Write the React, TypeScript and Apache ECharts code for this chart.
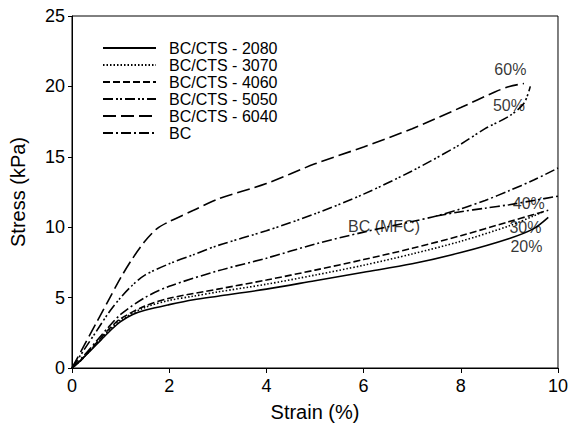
import React, { useEffect, useRef } from "react";
import * as echarts from "echarts";

const seriesNames = ["BC/CTS - 2080", "BC/CTS - 3070", "BC/CTS - 4060", "BC/CTS - 5050", "BC/CTS - 6040", "BC"];

const s2080: number[][] = [[0,0],[0.2,0.6],[0.4,1.3],[0.6,2.0],[0.8,2.7],[1.0,3.3],[1.25,3.8],[1.5,4.1],[2,4.5],[2.5,4.85],[3,5.1],[4,5.6],[5,6.2],[6,6.8],[7,7.4],[8,8.2],[9,9.2],[9.5,9.9],[9.8,10.7]];
const s3070: number[][] = [[0,0],[0.2,0.6],[0.4,1.35],[0.6,2.1],[0.8,2.8],[1,3.4],[1.5,4.3],[2,4.8],[2.5,5.1],[3,5.4],[4,5.95],[5,6.6],[6,7.3],[7,8.1],[8,9.0],[9,10.1],[9.5,10.8],[9.7,11.1]];
const s4060: number[][] = [[0,0],[0.2,0.62],[0.4,1.4],[0.6,2.15],[0.8,2.9],[1,3.5],[1.5,4.4],[2,4.95],[3,5.6],[4,6.25],[5,6.95],[6,7.7],[7,8.5],[8,9.4],[9,10.4],[9.5,10.9],[9.8,11.2]];
const s5050: number[][] = [[0,0],[0.25,1.3],[0.5,2.6],[0.75,3.9],[1,5.0],[1.25,5.9],[1.5,6.6],[2,7.4],[2.5,8.05],[3,8.7],[4,9.75],[5,10.95],[6,12.35],[7,14.0],[8,15.9],[8.5,17.0],[9,17.9],[9.3,18.8],[9.43,20.0]];
const s6040: number[][] = [[0,0],[0.25,1.6],[0.5,3.2],[0.75,4.8],[1,6.4],[1.25,7.8],[1.5,9.0],[1.75,9.9],[2,10.4],[2.5,11.2],[3,12.0],[4,13.1],[5,14.5],[6,15.7],[7,17.0],[8,18.5],[8.7,19.6],[9,20.0],[9.3,20.2]];
const sBC: number[][] = [[0,0],[0.25,0.9],[0.5,1.9],[0.75,2.9],[1,3.8],[1.5,5.0],[2,5.8],[3,6.9],[4,7.8],[5,8.8],[6,9.65],[7,10.4],[7.5,10.8],[8,11.3],[8.5,11.9],[9,12.6],[9.5,13.35],[10,14.2]];
const sBCBranch: number[][] = [[7.5,10.8],[8,11.1],[8.5,11.35],[9,11.6],[9.5,11.9],[10,12.2]];

const annotations = [
  { name: "60%", value: [9.02, 21.2] },
  { name: "50%", value: [8.99, 18.65] },
  { name: "40%", value: [9.4, 11.69] },
  { name: "30%", value: [9.33, 9.96] },
  { name: "20%", value: [9.35, 8.62] },
  { name: "BC (MFC)", value: [6.42, 10.03] },
];

const xTicks = { min: 0, max: 10, interval: 2 };
const yTicks = { min: 0, max: 25, interval: 5 };

const dashes: (string | number[])[] = ["solid", [1.5, 2], [7, 3], [10, 3, 2, 2, 2, 3], [13, 5], [10, 3, 2, 3]];
const datasets = [s2080, s3070, s4060, s5050, s6040, sBC];

export default function App() {
  const ref = useRef<HTMLDivElement>(null);
  useEffect(() => {
    if (!ref.current) return;
    document.body.style.margin = "0";
    const chart = echarts.init(ref.current, undefined, { renderer: "svg" });
    const font = "Liberation Sans, Arial, sans-serif";
    chart.setOption({
      animation: false,
      textStyle: { fontFamily: font },
      grid: { left: 71, right: 10, top: 16, bottom: 57, show: true, borderColor: "#000", borderWidth: 1 },
      legend: {
        data: seriesNames,
        orient: "vertical",
        left: 97,
        top: 35,
        itemWidth: 53,
        itemHeight: 14,
        itemGap: 1,
        itemStyle: { color: "rgba(0,0,0,0)", borderColor: "rgba(0,0,0,0)", borderWidth: 0 },
        textStyle: { fontSize: 16, lineHeight: 16, color: "#000", fontFamily: font, padding: [0, 0, 0, 8] },
      },
      xAxis: {
        type: "value",
        ...xTicks,
        name: "Strain (%)",
        nameLocation: "middle",
        nameGap: 34,
        nameTextStyle: { fontSize: 20, color: "#000" },
        axisLine: { lineStyle: { color: "#000", width: 1 } },
        axisTick: { show: true, length: 5, lineStyle: { color: "#000" } },
        axisLabel: { fontSize: 18, color: "#000", margin: 9 },
        splitLine: { show: false },
      },
      yAxis: {
        type: "value",
        ...yTicks,
        name: "Stress (kPa)",
        nameLocation: "middle",
        nameGap: 44,
        nameTextStyle: { fontSize: 20, color: "#000" },
        axisLine: { show: true, lineStyle: { color: "#000", width: 1 } },
        axisTick: { show: true, length: 4, lineStyle: { color: "#000" } },
        axisLabel: { fontSize: 18, color: "#000", margin: 7 },
        splitLine: { show: false },
      },
      series: [
        ...datasets.map((d, i) => ({
          name: seriesNames[i],
          type: "line",
          data: d,
          smooth: 0.3,
          symbol: "none",
          showSymbol: false,
          lineStyle: { color: "#000", width: 1.6, type: dashes[i] },
          itemStyle: { color: "#000" },
        })),
        {
          name: "BC branch",
          type: "line",
          data: sBCBranch,
          smooth: 0.3,
          symbol: "none",
          showSymbol: false,
          lineStyle: { color: "#000", width: 1.6, type: dashes[5] },
        },
        {
          name: "labels",
          type: "scatter",
          data: annotations,
          symbolSize: 0,
          label: { show: true, position: "inside", formatter: "{b}", fontSize: 16, color: "#000", fontFamily: font },
          silent: true,
        },
      ],
    });
    return () => chart.dispose();
  }, []);
  return <div ref={ref} style={{ width: 571, height: 427 }} />;
}
